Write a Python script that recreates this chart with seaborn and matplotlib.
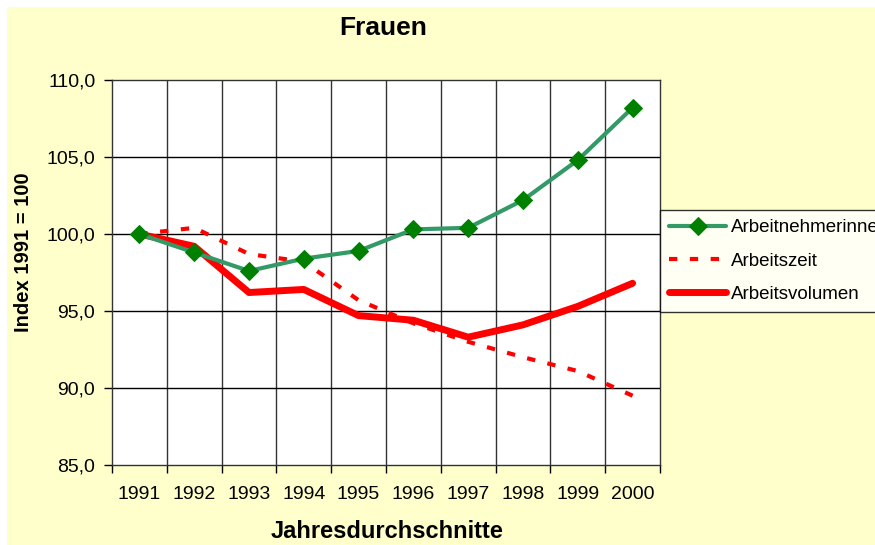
import numpy as np
import pandas as pd
import seaborn as sns
import matplotlib.pyplot as plt
from matplotlib.patches import Rectangle
from matplotlib.ticker import FuncFormatter

# Werte (Index 1991 = 100)
jahre = [1991, 1992, 1993, 1994, 1995, 1996, 1997, 1998, 1999, 2000]
arbeitnehmerinnen = [100.0, 98.8, 97.6, 98.4, 98.9, 100.3, 100.4, 102.2, 104.8, 108.2]
arbeitszeit = [100.0, 100.4, 98.7, 98.2, 95.7, 94.2, 93.0, 92.0, 91.1, 89.5]
arbeitsvolumen = [100.0, 99.2, 96.2, 96.4, 94.7, 94.4, 93.3, 94.1, 95.3, 96.8]

df = pd.DataFrame({'Jahr': jahre,
                   'Arbeitnehmerinnen': arbeitnehmerinnen,
                   'Arbeitszeit': arbeitszeit,
                   'Arbeitsvolumen': arbeitsvolumen})

sns.set_theme(style='white')
plt.rcParams['font.family'] = ['Liberation Sans', 'DejaVu Sans']
plt.rcParams['text.color'] = 'black'

fig = plt.figure(figsize=(8.75, 5.45), dpi=100)
fig.patch.set_facecolor('white')
fig.patches.append(Rectangle((7 / 875, 0), 1, 1 - 7 / 545, transform=fig.transFigure,
                             facecolor='#FFFFCC', edgecolor='none', zorder=-10))
ax = fig.add_axes([112 / 875, 1 - 465 / 545, 548 / 875, 385 / 545])
ax.set_facecolor('white')

sns.lineplot(data=df, x='Jahr', y='Arbeitnehmerinnen', ax=ax, color='#339966', lw=3,
             marker='D', markersize=9, markerfacecolor='#008000', markeredgecolor='#008000',
             label='Arbeitnehmerinnen', zorder=3)
sns.lineplot(data=df, x='Jahr', y='Arbeitszeit', ax=ax, color='#FF0000', lw=3,
             dashes=False, label='Arbeitszeit', zorder=2)
ax.lines[-1].set_dashes([2.0, 3.0])
sns.lineplot(data=df, x='Jahr', y='Arbeitsvolumen', ax=ax, color='#FF0000', lw=5,
             label='Arbeitsvolumen', zorder=2)

ax.set_xlim(1990.5, 2000.5)
ax.set_ylim(85, 110)
ax.set_xticks(jahre)
ax.set_xticklabels([str(j) for j in jahre])
ax.set_xticks(np.arange(1990.5, 2001, 1), minor=True)
ax.set_yticks(np.arange(85, 111, 5))
ax.yaxis.set_major_formatter(FuncFormatter(lambda v, p: f'{v:.1f}'.replace('.', ',')))

ax.grid(False)
for v in np.arange(1991.5, 2000, 1):
    ax.axvline(v, color='#333333', lw=1, zorder=0)
for v in np.arange(90, 110, 5):
    ax.axhline(v, color='black', lw=1, zorder=0)

ax.tick_params(axis='x', which='major', length=0, pad=15, labelsize=14, colors='black')
ax.tick_params(axis='x', which='minor', length=6, width=1, color='black', direction='out', bottom=True)
ax.tick_params(axis='y', length=6, width=1, color='black', direction='out', left=True,
               labelsize=14, pad=6, colors='black')
for s in ax.spines.values():
    s.set_color('#333333')
    s.set_linewidth(1)

ax.set_xlabel('')
ax.set_ylabel('')
fig.text(387 / 875, 1 - 531 / 545, 'Jahresdurchschnitte', ha='center', va='center',
         fontsize=17, fontweight='bold')
fig.text(24 / 875, 1 - 252 / 545, 'Index 1991 = 100', ha='center', va='center',
         rotation=90, fontsize=14.5, fontweight='bold')
fig.text(383 / 875, 1 - 28 / 545, 'Frauen', ha='center', va='center',
         fontsize=19, fontweight='bold')

leg = ax.legend(loc='upper left', bbox_to_anchor=(1.0, (465 - 210) / 385), frameon=True,
                fancybox=False, edgecolor='black', fontsize=13.5, handlelength=3.0,
                borderpad=0.5, labelspacing=0.85, handletextpad=0.3, borderaxespad=0)
leg.get_frame().set_linewidth(1)
leg.get_frame().set_facecolor('white')

fig.savefig('out.png', dpi=100)
